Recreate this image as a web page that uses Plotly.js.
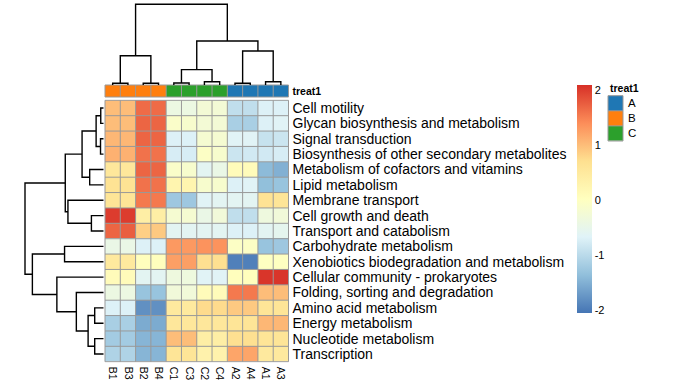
<!DOCTYPE html>
<html><head><meta charset="utf-8">
<script src="https://cdn.plot.ly/plotly-3.0.1.min.js"></script>
<style>html,body{margin:0;padding:0;background:#fff}#chart{width:680px;height:390px}</style>
</head><body><div id="chart"></div>
<script>
// ---------------- data ----------------
const rowLabels = [
  "Cell motility","Glycan biosynthesis and metabolism","Signal transduction",
  "Biosynthesis of other secondary metabolites","Metabolism of cofactors and vitamins",
  "Lipid metabolism","Membrane transport","Cell growth and death","Transport and catabolism",
  "Carbohydrate metabolism","Xenobiotics biodegradation and metabolism",
  "Cellular community - prokaryotes","Folding, sorting and degradation",
  "Amino acid metabolism","Energy metabolism","Nucleotide metabolism","Transcription"];
const colLabels = ["B1","B3","B2","B4","C1","C3","C2","C4","A2","A4","A1","A3"];
const colGroups = ["B","B","B","B","C","C","C","C","A","A","A","A"];
const groupNames = ["A","B","C"];
const groupColors = ["#1F77B4","#FF7F0E","#2CA02C"];
const legendTitle = "treat1";
const scaleTicks = [-2,-1,0,1,2];
const zMin = -2.05, zMax = 2.09;
const paletteRdYlBu = ["#4575B4","#91BFDB","#E0F3F8","#FFFFBF","#FEE090","#FC8D59","#D73027"];

const values = [
  [ 1.00, 1.00, 1.65, 1.65,-0.40,-0.40,-0.25,-0.25,-0.95,-0.95,-0.70,-0.70],
  [ 1.00, 1.00, 1.70, 1.70,-0.10,-0.15,-0.25,-0.25,-1.15,-1.15,-0.70,-0.65],
  [ 1.05, 1.05, 1.70, 1.70,-0.70,-0.70,-0.20,-0.20,-0.65,-0.65,-0.90,-0.85],
  [ 1.10, 1.10, 1.60, 1.60,-0.75,-0.75,-0.05,-0.15,-0.85,-0.80,-0.80,-0.75],
  [ 0.55, 0.55, 1.70, 1.70,-0.10,-0.15,-0.60,-0.45, 0.10, 0.10,-1.40,-1.50],
  [ 0.65, 0.65, 1.60, 1.60, 0.25, 0.25,-0.15,-0.15,-0.70,-0.65,-1.35,-1.30],
  [ 0.60, 0.60, 1.55, 1.55,-1.25,-1.25,-0.65,-0.60,-0.60,-0.60, 0.65, 0.60],
  [ 2.00, 2.00, 0.40, 0.40,-0.20,-0.20,-0.45,-0.30,-0.95,-0.95,-0.35,-0.30],
  [ 1.70, 1.75, 0.85, 0.90,-0.60,-0.60,-0.60,-0.60,-0.70,-0.70,-0.60,-0.55],
  [-0.45,-0.45,-0.70,-0.70, 1.30, 1.30, 1.35, 1.35,-0.05,-0.05,-1.30,-1.25],
  [ 0.50, 0.50, 0.05, 0.05, 1.25, 1.25, 0.70, 0.70,-1.95,-1.95, 0.00, 0.00],
  [ 0.10, 0.10,-0.60,-0.60,-0.35,-0.35,-0.65,-0.65, 0.05, 0.05, 2.05, 2.05],
  [-0.40,-0.40,-1.30,-1.30,-0.30,-0.30, 0.10, 0.10, 1.55, 1.55, 1.00, 1.00],
  [-0.70,-0.70,-1.80,-1.80, 0.50, 0.50, 0.75, 0.75, 0.90, 0.90, 0.60, 0.60],
  [-1.15,-1.15,-1.55,-1.55, 0.55, 0.55, 0.55, 0.55, 0.60, 0.60, 1.05, 1.05],
  [-1.20,-1.20,-1.45,-1.45, 1.00, 1.00, 0.40, 0.40, 0.70, 0.70, 0.60, 0.60],
  [-1.10,-1.10,-1.45,-1.45, 0.60, 0.60, 0.30, 0.30, 1.20, 1.20, 0.50, 0.50]];

// hclust-style merges: negative = leaf (1-based display order), positive = earlier merge; third = height
const rowMerges = [
  [-1,-2,0.35],[-3,-4,0.38],[1,2,0.94],[-5,-6,1.76],[3,4,2.73],
  [-8,-9,1.54],[-7,6,4.53],[5,7,4.87],[-14,-15,1.12],[-16,-17,1.12],
  [9,10,1.96],[-13,11,3.46],[-12,12,5.94],[-10,-11,4.96],[14,13,9.06],[8,15,10]];
const colMerges = [
  [-1,-2,0.21],[-3,-4,0.21],[1,2,3.63],[-5,-6,0.25],[-7,-8,0.41],
  [4,5,1.90],[-9,-10,0.21],[-11,-12,0.41],[7,8,4.21],[6,9,5.45],[3,10,10]];

// ---------------- helpers ----------------
const W = 680, H = 390;
function xAx(px0, px1, v0, v1, pad) {
  const k = (v1 - v0) / (px1 - px0);
  return {domain: [(px0 - pad) / W, (px1 + pad) / W], range: [v0 - pad * k, v1 + pad * k]};
}
function yAx(pyTop, pyBot, vTop, vBot, pad) {
  const k = (vBot - vTop) / (pyBot - pyTop);
  return {domain: [1 - (pyBot + pad) / H, 1 - (pyTop - pad) / H], range: [vBot + pad * k, vTop - pad * k]};
}
function dendroSegments(merges) {
  const pos = [], hgt = [];
  const segs = [];
  const get = (id) => id < 0 ? [-id - 1, 0] : [pos[id - 1], hgt[id - 1]];
  merges.forEach(m => {
    const [pa, ha] = get(m[0]); const [pb, hb] = get(m[1]); const h = m[2];
    segs.push([[pa, ha], [pa, h], [pb, h], [pb, hb]]);
    pos.push((pa + pb) / 2); hgt.push(h);
  });
  return segs;
}
function gridLines(nx, ny) {
  const x = [], y = [];
  for (let i = 0; i <= nx; i++) { x.push(i - 0.5, i - 0.5, null); y.push(-0.5, ny - 0.5, null); }
  for (let j = 0; j <= ny; j++) { x.push(-0.5, nx - 0.5, null); y.push(j - 0.5, j - 0.5, null); }
  return {x, y};
}
const nR = rowLabels.length, nC = colLabels.length;
const idx = n => Array.from({length: n}, (_, i) => i);
const cs = paletteRdYlBu.map((c, i) => [i / (paletteRdYlBu.length - 1), c]);
const gcs = [[0, groupColors[0]], [0.25, groupColors[0]], [0.25, groupColors[1]], [0.75, groupColors[1]], [0.75, groupColors[2]], [1, groupColors[2]]];
const FONT = "Liberation Sans, Arial, Helvetica, sans-serif";
const BORDER = "#999999";

// geometry (pixels)
const hmX0 = 105, hmX1 = 288.5, hmY0 = 100.3, hmY1 = 361.7;
const axHX = xAx(hmX0, hmX1, -0.5, nC - 0.5, 1);
const axHY = yAx(hmY0, hmY1, -0.5, nR - 0.5, 1);
const axAY = yAx(85, 97, -0.5, 0.5, 1);
const rootC = Math.max(...colMerges.map(m => m[2]));
const rootR = Math.max(...rowMerges.map(m => m[2]));
const axCDY = yAx(4.3, 85, rootC, 0, 2);
const axRDX = xAx(25, 103.5, rootR, 0, 2);
const axLX = xAx(608, 623, -0.5, 0.5, 1);
const axLY = yAx(95.7, 141, -0.5, groupNames.length - 0.5, 1);

const traces = [];
// main heatmap
traces.push({type: 'heatmap', z: values, x: idx(nC), y: idx(nR), xaxis: 'x', yaxis: 'y',
  colorscale: cs, zmin: zMin, zmax: zMax, hoverinfo: 'skip',
  colorbar: {x: 577 / W, xanchor: 'left', y: 1 - 85 / H, yanchor: 'top', len: 228, lenmode: 'pixels',
    thickness: 15, thicknessmode: 'pixels', outlinewidth: 0, xpad: 0, ypad: 0,
    tickvals: scaleTicks, ticktext: scaleTicks.map(String), ticks: '', ticklabelstandoff: 2,
    tickfont: {family: FONT, size: 11, color: '#000'}}});
const g1 = gridLines(nC, nR);
traces.push({type: 'scatter', mode: 'lines', x: g1.x, y: g1.y, xaxis: 'x', yaxis: 'y',
  line: {color: BORDER, width: 1}, hoverinfo: 'skip'});
// annotation bar
traces.push({type: 'heatmap', z: [colGroups.map(g => groupNames.indexOf(g))], x: idx(nC), y: [0],
  xaxis: 'x2', yaxis: 'y2', colorscale: gcs, zmin: 0, zmax: 2, showscale: false, hoverinfo: 'skip'});
const g2 = gridLines(nC, 1);
traces.push({type: 'scatter', mode: 'lines', x: g2.x, y: g2.y, xaxis: 'x2', yaxis: 'y2',
  line: {color: BORDER, width: 1}, hoverinfo: 'skip'});
// column dendrogram
const cseg = dendroSegments(colMerges);
const cdx = [], cdy = [];
cseg.forEach(s => { s.forEach(p => { cdx.push(p[0]); cdy.push(p[1]); }); cdx.push(null); cdy.push(null); });
traces.push({type: 'scatter', mode: 'lines', x: cdx, y: cdy, xaxis: 'x3', yaxis: 'y3',
  line: {color: '#000', width: 1.4}, hoverinfo: 'skip'});
// row dendrogram
const rseg = dendroSegments(rowMerges);
const rdx = [], rdy = [];
rseg.forEach(s => { s.forEach(p => { rdx.push(p[1]); rdy.push(p[0]); }); rdx.push(null); rdy.push(null); });
traces.push({type: 'scatter', mode: 'lines', x: rdx, y: rdy, xaxis: 'x4', yaxis: 'y4',
  line: {color: '#000', width: 1.4}, hoverinfo: 'skip'});
// legend block
traces.push({type: 'heatmap', z: groupNames.map((g, i) => [i]), x: [0], y: idx(groupNames.length),
  xaxis: 'x5', yaxis: 'y5', colorscale: gcs, zmin: 0, zmax: 2, showscale: false, hoverinfo: 'skip'});
const g3 = gridLines(1, groupNames.length);
traces.push({type: 'scatter', mode: 'lines', x: g3.x, y: g3.y, xaxis: 'x5', yaxis: 'y5',
  line: {color: BORDER, width: 1}, hoverinfo: 'skip'});

const base = {showgrid: false, zeroline: false, showline: false, ticks: '', fixedrange: true};
const hidden = Object.assign({}, base, {showticklabels: false});
const layout = {
  width: W, height: H, margin: {l: 0, r: 0, t: 0, b: 0}, showlegend: false,
  paper_bgcolor: '#fff', plot_bgcolor: 'rgba(0,0,0,0)',
  font: {family: FONT, color: '#000'},
  xaxis: Object.assign({}, base, axHX, {anchor: 'y', tickvals: idx(nC), ticktext: colLabels, tickangle: 90,
    side: 'bottom', ticklabelstandoff: 3, tickfont: {size: 10.5, family: FONT, color: '#000'}}),
  yaxis: Object.assign({}, base, axHY, {anchor: 'x', side: 'right', tickvals: idx(nR), ticktext: rowLabels,
    ticklabelstandoff: 2, tickfont: {size: 14, family: FONT, color: '#000'}}),
  xaxis2: Object.assign({}, hidden, axHX, {anchor: 'y2'}),
  yaxis2: Object.assign({}, base, axAY, {anchor: 'x2', side: 'right', tickvals: [0], ticktext: ['<b>' + legendTitle + '</b>'],
    ticklabelstandoff: 2, tickfont: {size: 10.5, family: FONT, color: '#000'}}),
  xaxis3: Object.assign({}, hidden, axHX, {anchor: 'y3'}),
  yaxis3: Object.assign({}, hidden, axCDY, {anchor: 'x3'}),
  xaxis4: Object.assign({}, hidden, axRDX, {anchor: 'y4'}),
  yaxis4: Object.assign({}, hidden, axHY, {anchor: 'x4'}),
  xaxis5: Object.assign({}, hidden, axLX, {anchor: 'y5'}),
  yaxis5: Object.assign({}, base, axLY, {anchor: 'x5', side: 'right', tickvals: idx(groupNames.length), ticktext: groupNames,
    ticklabelstandoff: 3, tickfont: {size: 11.5, family: FONT, color: '#000'}}),
  annotations: [{xref: 'paper', yref: 'paper', x: 608 / W, y: 1 - 88 / H, xanchor: 'left', yanchor: 'middle',
    text: '<b>' + legendTitle + '</b>', showarrow: false, font: {family: FONT, size: 10.5, color: '#000'}}]
};
Plotly.newPlot('chart', traces, layout, {displayModeBar: false, staticPlot: true});
</script>
</body></html>
